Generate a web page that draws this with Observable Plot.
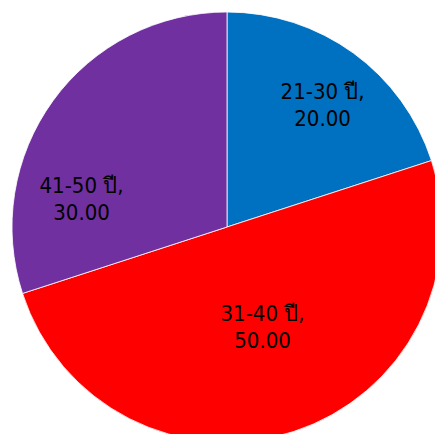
<!DOCTYPE html>
<html>
<head>
<meta charset="utf-8">
<script src="https://cdn.jsdelivr.net/npm/d3@7"></script>
<script src="https://cdn.jsdelivr.net/npm/@observablehq/plot@0.6"></script>
<style>
  html, body { margin: 0; padding: 0; background: #fff; }
</style>
</head>
<body>
<div id="chart"></div>
<script>
// Data
const categories = ["21-30 ปี", "31-40 ปี", "41-50 ปี"];
const values = [20, 50, 30];
const colors = ["#0070C0", "#FF0000", "#7030A0"];
// label placement (polar: angle in degrees clockwise from top, radius as fraction of pie radius)
const labelAngles = [37.6, 160.4, 281.6];
const labelRadii = [0.725, 0.486, 0.693];

const W = 435, H = 434, R = 215, CX = 227, CY = 227;

const slices = categories.map((c, i) => ({category: c, value: values[i], color: colors[i]}));
const arcs = d3.pie().sort(null).value(d => d.value)(slices);

const labels = slices.map((s, i) => {
  const a = labelAngles[i] * Math.PI / 180;
  return {
    x: labelRadii[i] * Math.sin(a),
    y: labelRadii[i] * Math.cos(a),
    text: `${s.category},\n${s.value.toFixed(2)}`
  };
});

const pieMark = (index, scales) => {
  const cx = scales.x(0), cy = scales.y(0);
  const r = scales.x(1) - scales.x(0);
  const arc = d3.arc().innerRadius(0).outerRadius(r);
  const g = d3.create("svg:g").attr("transform", `translate(${cx},${cy})`);
  g.selectAll("path")
    .data(arcs)
    .join("path")
    .attr("d", arc)
    .attr("fill", d => d.data.color)
    .attr("stroke", "#ffffff")
    .attr("stroke-width", 0.8)
    .attr("stroke-linejoin", "round");
  return g.node();
};

const chart = Plot.plot({
  width: W,
  height: H,
  margin: 0,
  x: {domain: [-CX / R, (W - CX) / R], range: [0, W], axis: null},
  y: {domain: [-(H - CY) / R, CY / R], range: [H, 0], axis: null},
  style: {background: "#fff", fontFamily: "'DejaVu Sans Condensed', 'DejaVu Sans', sans-serif"},
  marks: [
    pieMark,
    Plot.text(labels, {
      x: "x", y: "y", text: "text",
      fontSize: 22, lineHeight: 1.22, fill: "#000",
      textAnchor: "middle"
    })
  ]
});
document.getElementById("chart").appendChild(chart);
</script>
</body>
</html>
